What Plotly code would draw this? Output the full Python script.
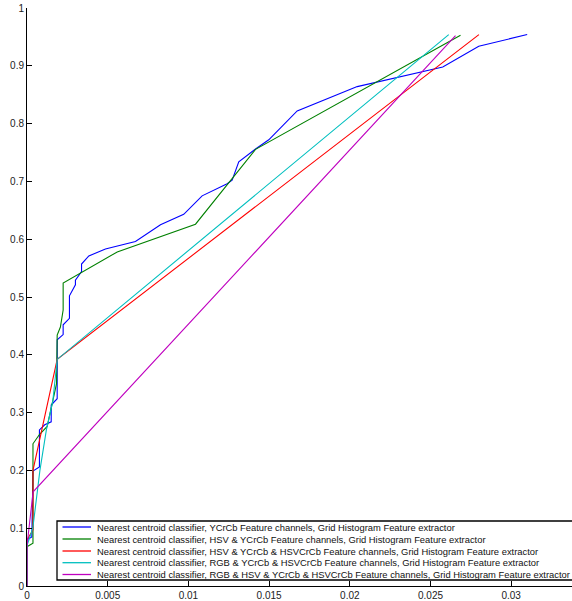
import plotly.graph_objects as go

# False-positive rate vs. detection rate for each feature configuration
series_names = [
    "Nearest centroid classifier, YCrCb Feature channels, Grid Histogram Feature extractor",
    "Nearest centroid classifier, HSV & YCrCb Feature channels, Grid Histogram Feature extractor",
    "Nearest centroid classifier, HSV & YCrCb & HSVCrCb Feature channels, Grid Histogram Feature extractor",
    "Nearest centroid classifier, RGB & YCrCb & HSVCrCb Feature channels, Grid Histogram Feature extractor",
    "Nearest centroid classifier, RGB & HSV & YCrCb & HSVCrCb Feature channels, Grid Histogram Feature extractor",
]
series_colors = ["#0000ff", "#008000", "#ff0000", "#00bfbf", "#bf00bf"]

ycrcb_x = [0, 0, 0.0003, 0.00037, 0.00077, 0.00077, 0.0011, 0.0015, 0.0015, 0.00187,
           0.00187, 0.00224, 0.00224, 0.00263, 0.00263, 0.0030, 0.0030, 0.00338, 0.00338,
           0.00383, 0.00486, 0.00672, 0.00827, 0.00971, 0.01085, 0.0124, 0.01271, 0.01312,
           0.01416, 0.01498, 0.01674, 0.02046, 0.02576, 0.02799, 0.03099]
ycrcb_y = [0, 0.08, 0.085, 0.199, 0.206, 0.27, 0.279, 0.284, 0.313, 0.324,
           0.426, 0.435, 0.452, 0.463, 0.502, 0.521, 0.529, 0.544, 0.557,
           0.571, 0.583, 0.596, 0.625, 0.643, 0.675, 0.696, 0.702, 0.734,
           0.756, 0.772, 0.822, 0.864, 0.898, 0.934, 0.954]

hsv_ycrcb_x = [0, 0, 0.00037, 0.00037, 0.00077, 0.00125, 0.00183, 0.00187, 0.00207,
               0.00224, 0.00224, 0.00559, 0.01044, 0.01416, 0.02686]
hsv_ycrcb_y = [0, 0.068, 0.074, 0.246, 0.262, 0.276, 0.35, 0.434, 0.448,
               0.4775, 0.524, 0.578, 0.626, 0.7555, 0.953]

hsv_ycrcb_hsvcrcb_x = [0, 0, 0.00037, 0.00037, 0.00187, 0.028]
hsv_ycrcb_hsvcrcb_y = [0, 0.08, 0.097, 0.2, 0.392, 0.954]

rgb_ycrcb_hsvcrcb_x = [0, 0, 0.00036, 0.0008, 0.0012, 0.0016, 0.00187, 0.02613]
rgb_ycrcb_hsvcrcb_y = [0, 0.07, 0.1, 0.2, 0.27, 0.32, 0.392, 0.954]

rgb_hsv_ycrcb_hsvcrcb_x = [0, 0, 0.00038, 0.02655]
rgb_hsv_ycrcb_hsvcrcb_y = [0, 0.07, 0.163, 0.952]

series_x = [ycrcb_x, hsv_ycrcb_x, hsv_ycrcb_hsvcrcb_x, rgb_ycrcb_hsvcrcb_x, rgb_hsv_ycrcb_hsvcrcb_x]
series_y = [ycrcb_y, hsv_ycrcb_y, hsv_ycrcb_hsvcrcb_y, rgb_ycrcb_hsvcrcb_y, rgb_hsv_ycrcb_hsvcrcb_y]

x_tick_vals = [0, 0.005, 0.01, 0.015, 0.02, 0.025, 0.03]
x_tick_text = ["0", "0.005", "0.01", "0.015", "0.02", "0.025", "0.03"]
y_tick_vals = [0, 0.1, 0.2, 0.3, 0.4, 0.5, 0.6, 0.7, 0.8, 0.9, 1.0]
y_tick_text = ["0", "0.1", "0.2", "0.3", "0.4", "0.5", "0.6", "0.7", "0.8", "0.9", "1"]

W, H = 572, 601
ML, MR, MT, MB = 27, 0, 8, 15
PW, PH = W - ML - MR, H - MT - MB

fig = go.Figure()
for name, color, xs, ys in zip(series_names, series_colors, series_x, series_y):
    fig.add_trace(go.Scatter(x=xs, y=ys, mode="lines", name=name,
                             line=dict(color=color, width=1.1), showlegend=False))

# Compact boxed legend in the lower part of the axes
def px_to_paper_x(px):
    return (px - ML) / PW

def px_to_paper_y(py):
    return (H - MB - py) / PH

shapes = [dict(type="rect", xref="paper", yref="paper",
               x0=px_to_paper_x(57), x1=px_to_paper_x(600),
               y0=px_to_paper_y(580), y1=px_to_paper_y(521),
               line=dict(color="black", width=1.3), fillcolor="white", layer="above")]
annotations = []
row_y = [527, 539, 551, 562.7, 574.5]
for name, color, py in zip(series_names, series_colors, row_y):
    shapes.append(dict(type="line", xref="paper", yref="paper",
                       x0=px_to_paper_x(62.5), x1=px_to_paper_x(91),
                       y0=px_to_paper_y(py), y1=px_to_paper_y(py),
                       line=dict(color=color, width=1.3), layer="above"))
    annotations.append(dict(xref="paper", yref="paper", x=px_to_paper_x(94.5),
                            y=px_to_paper_y(py), text=name, showarrow=False,
                            xanchor="left", yanchor="middle",
                            font=dict(family="Liberation Sans, Arial", size=9.4, color="#111")))

fig.update_layout(
    width=W, height=H,
    margin=dict(l=ML, r=MR, t=MT, b=MB, autoexpand=False),
    paper_bgcolor="white", plot_bgcolor="white",
    font=dict(family="Liberation Sans, Arial", size=10, color="#222"),
    shapes=shapes, annotations=annotations,
    xaxis=dict(range=[0, PW / 16140], tickvals=x_tick_vals, ticktext=x_tick_text,
               showgrid=False, zeroline=False, showline=True, linecolor="black",
               linewidth=1, ticks="inside", ticklen=5, tickcolor="black",
               tickfont=dict(size=10, color="#222")),
    yaxis=dict(range=[0, 1], tickvals=y_tick_vals, ticktext=y_tick_text,
               showgrid=False, zeroline=False, showline=True, linecolor="black",
               linewidth=1, ticks="inside", ticklen=5, tickcolor="black",
               tickfont=dict(size=10, color="#222")),
)

fig.write_html("out.html")
